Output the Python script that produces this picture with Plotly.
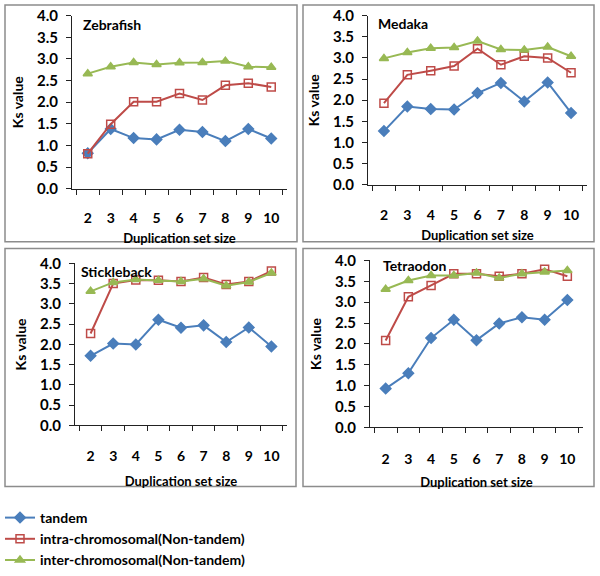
import plotly.graph_objects as go

sizes = ["2", "3", "4", "5", "6", "7", "8", "9", "10"]
species = ["Zebrafish", "Medaka", "Stickleback", "Tetraodon"]
series_names = ["tandem", "intra-chromosomal(Non-tandem)", "inter-chromosomal(Non-tandem)"]

zebrafish_tandem = [0.82, 1.38, 1.17, 1.14, 1.36, 1.31, 1.10, 1.38, 1.16]
zebrafish_intra = [0.81, 1.49, 2.01, 2.01, 2.20, 2.05, 2.39, 2.44, 2.35]
zebrafish_inter = [2.66, 2.82, 2.92, 2.87, 2.91, 2.92, 2.95, 2.82, 2.81]

medaka_tandem = [1.27, 1.85, 1.79, 1.78, 2.17, 2.41, 1.97, 2.42, 1.70]
medaka_intra = [1.93, 2.60, 2.70, 2.81, 3.22, 2.84, 3.04, 3.00, 2.65]
medaka_inter = [2.99, 3.13, 3.23, 3.25, 3.40, 3.20, 3.19, 3.26, 3.04]

stickleback_tandem = [1.72, 2.02, 2.00, 2.61, 2.41, 2.47, 2.06, 2.42, 1.95]
stickleback_intra = [2.27, 3.50, 3.59, 3.58, 3.55, 3.65, 3.48, 3.55, 3.81]
stickleback_inter = [3.31, 3.53, 3.60, 3.58, 3.55, 3.62, 3.45, 3.54, 3.76]

tetraodon_tandem = [0.93, 1.30, 2.14, 2.58, 2.09, 2.49, 2.64, 2.58, 3.05]
tetraodon_intra = [2.08, 3.13, 3.40, 3.68, 3.68, 3.62, 3.68, 3.79, 3.62]
tetraodon_inter = [3.31, 3.52, 3.64, 3.64, 3.70, 3.58, 3.68, 3.72, 3.76]

y_ticks = [0.0, 0.5, 1.0, 1.5, 2.0, 2.5, 3.0, 3.5, 4.0]

data = [
    [zebrafish_tandem, zebrafish_intra, zebrafish_inter],
    [medaka_tandem, medaka_intra, medaka_inter],
    [stickleback_tandem, stickleback_intra, stickleback_inter],
    [tetraodon_tandem, tetraodon_intra, tetraodon_inter],
]

W, H = 600, 576
colors = ["#4A7EBB", "#BE4B48", "#98B954"]
symbols = ["diamond", "square-open", "triangle-up"]
msizes = [8, 8, 8]

# plot areas in pixels (x0, x1, ytop, ybottom)
areas = [(72, 287, 16, 192), (368, 587, 16, 188), (75, 287, 268, 433), (370, 583, 265, 435)]
borders = [(5, 297, 5, 246), (303, 594, 5, 246), (5, 296, 253, 495), (303, 594, 253, 495)]
title_pos = [(81, 25), (376, 24), (79, 276), (381, 270)]
lab_standoff = [17, 17, 18, 19]
ttl_standoff = [8, 9, 13, 11]

FONT = "Lato"
fig = go.Figure()

for i in range(4):
    ax = "" if i == 0 else str(i + 1)
    for j in range(3):
        fig.add_trace(go.Scatter(
            x=sizes, y=data[i][j], name=series_names[j],
            mode="lines+markers",
            line=dict(color=colors[j], width=2),
            marker=dict(symbol=symbols[j], size=msizes[j], color=colors[j],
                        line=dict(color=colors[j], width=1.5)),
            xaxis="x" + ax, yaxis="y" + ax,
            showlegend=(i == 0),
        ))
    x0, x1, yt, yb = areas[i]
    xd = [x0 / W, x1 / W]
    yd = [1 - yb / H, 1 - yt / H]
    fig.update_layout(**{
        "xaxis" + ax: dict(
            domain=xd, type="category", anchor="y" + ax, automargin=False,
            tickson="boundaries", ticks="outside", ticklen=5, tickcolor="#222",
            showline=True, linecolor="#222", linewidth=1, tickangle=0,
            showgrid=False, zeroline=False,
            ticklabelstandoff=lab_standoff[i],
            tickfont=dict(family=FONT, size=14, color="black", weight="bold"),
            title=dict(text="Duplication set size", standoff=ttl_standoff[i],
                       font=dict(family=FONT, size=13, color="black", weight="bold")),
        ),
        "yaxis" + ax: dict(
            domain=yd, anchor="x" + ax, range=[0, 4.0], automargin=False,
            tickvals=y_ticks, tickformat=".1f",
            ticks="outside", ticklen=5, tickcolor="#222",
            showline=True, linecolor="#222", linewidth=1,
            showgrid=False, zeroline=False,
            ticklabelstandoff=5,
            tickfont=dict(family=FONT, size=15, color="black", weight="bold"),
            title=dict(text="Ks value", standoff=10,
                       font=dict(family=FONT, size=14, color="black", weight="bold")),
        ),
    })
    bx0, bx1, by0, by1 = borders[i]
    fig.add_shape(type="rect", xref="paper", yref="paper",
                  x0=bx0 / W, x1=bx1 / W, y0=1 - by1 / H, y1=1 - by0 / H,
                  line=dict(color="#8C8C8C", width=1.5), layer="below")
    tx, ty = title_pos[i]
    fig.add_annotation(text=species[i], xref="paper", yref="paper",
                       x=tx / W, y=1 - ty / H, xanchor="left", yanchor="middle",
                       showarrow=False,
                       font=dict(family=FONT, size=14, color="black", weight="bold"))

fig.update_layout(
    width=W, height=H,
    margin=dict(l=0, r=0, t=0, b=0),
    paper_bgcolor="white", plot_bgcolor="white",
    legend=dict(x=0, y=1 - 511 / H, xanchor="left", yanchor="top",
                orientation="v", itemwidth=30,
                font=dict(family=FONT, size=14, color="black", weight="bold"),
                bgcolor="rgba(0,0,0,0)"),
)

fig.write_html("out.html", config={"displayModeBar": False},
               post_script="document.body.style.margin='0';")
